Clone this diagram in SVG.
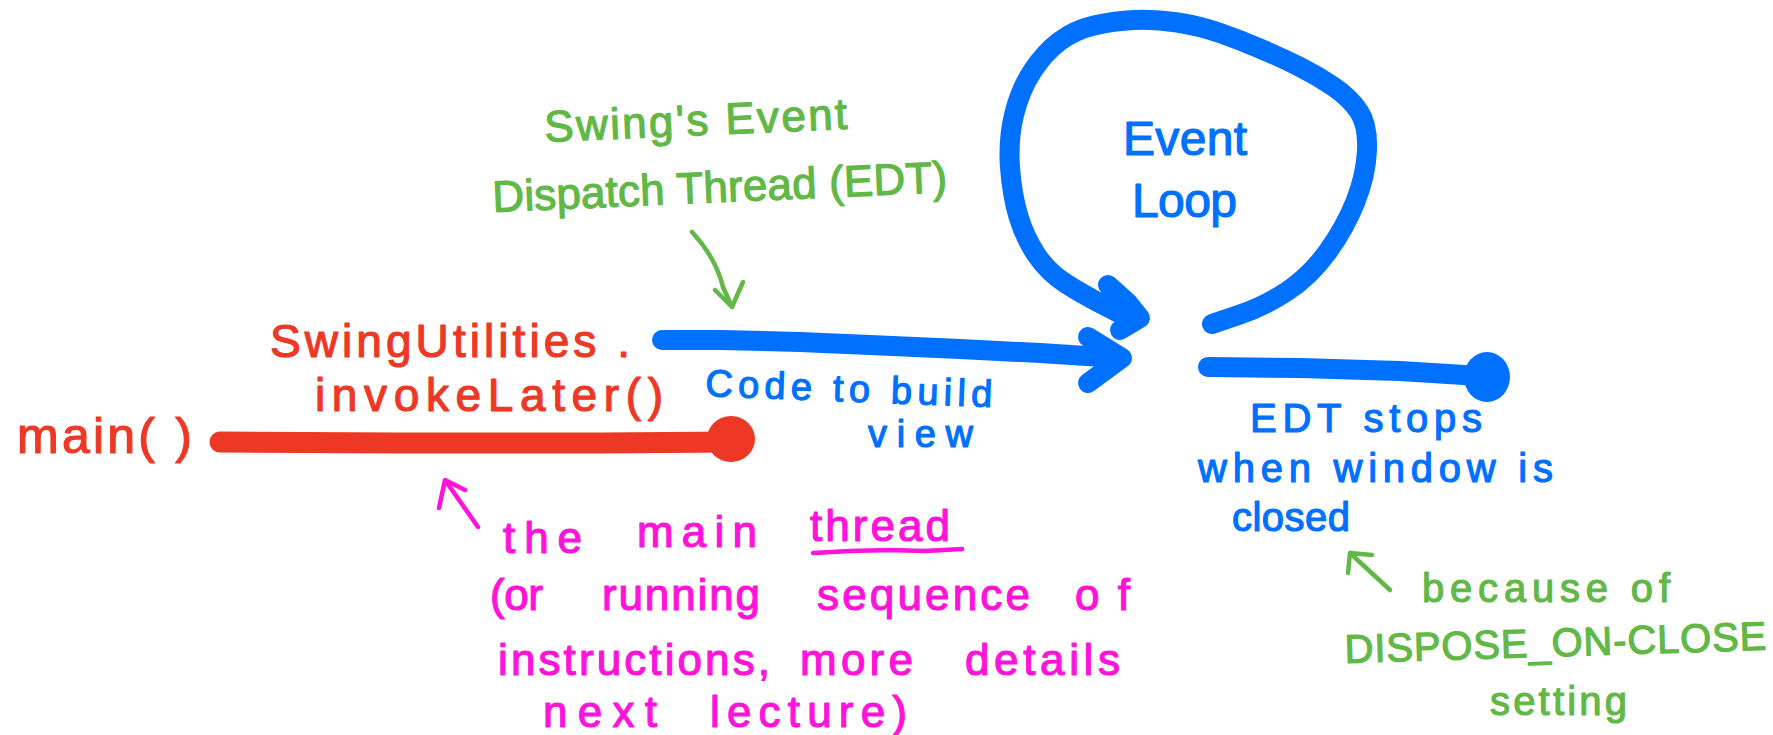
<svg xmlns="http://www.w3.org/2000/svg" width="1773" height="735" viewBox="0 0 1773 735">
  <style>
    text { font-family: "Liberation Sans", "DejaVu Sans", sans-serif; stroke-width: 1.2; stroke-linejoin: round; }
    .red { fill: #EE3826; stroke: #EE3826; }
    .blue { fill: #0070FF; stroke: #0070FF; }
    .green { fill: #62B846; stroke: #62B846; }
    .pink { fill: #FF12DA; stroke: #FF12DA; }
    .stroke { fill: none; stroke-linecap: round; stroke-linejoin: round; }
    .thick-red { stroke: #EE3826; stroke-width: 21; }
    .thick-blue { stroke: #0070FF; stroke-width: 20; }
    .thin-green { stroke: #62B846; stroke-width: 4.5; }
    .thin-pink { stroke: #FF12DA; stroke-width: 4.5; }
  </style>
  <rect width="1773" height="735" fill="#FFFFFF"/>

  <!-- connectors -->
  <g id="connectors">
    <!-- main thread line -->
    <path class="stroke thick-red" d="M220,442 L400,443 L600,443 L730,442"/>
    <ellipse cx="731" cy="439" rx="24" ry="23" fill="#EE3826"/>
    <!-- invokeLater hand-off to EDT -->
    <path class="stroke thick-blue" d="M662,340 L720,340 L800,342 L870,345 L960,349 L1040,353 L1118,358"/>
    <path class="stroke thick-blue" d="M1088,337 L1122,358 L1088,383"/>
    <!-- event loop -->
    <path class="stroke thick-blue" d="M1212,324 L1238.5,315 Q1265,306 1287.5,291 Q1310,276 1327.5,252 Q1345,228 1355.5,201.5 Q1366,175 1367,150 Q1368,125 1359,111.5 Q1350,98 1334,87 Q1318,76 1300,67 Q1282,58 1261,49 Q1240,40 1220,33 Q1200,26 1177.5,22.5 Q1155,19 1134,20 Q1113,21 1094,25.5 Q1075,30 1060,41 Q1045,52 1032.5,71 Q1020,90 1014,115 Q1008,140 1010,167.5 Q1012,195 1018.5,216.5 Q1025,238 1036.5,255 Q1048,272 1065,283 Q1082,294 1103.5,305 L1125,316"/>
    <path class="stroke thick-blue" d="M1108,285 L1128,303 L1140,318 L1120,330"/>
    <!-- EDT ends -->
    <path class="stroke thick-blue" d="M1208,367 L1300,368 L1400,371 L1480,376"/>
    <ellipse cx="1487" cy="377" rx="23" ry="25" fill="#0070FF"/>
    <!-- annotation arrows -->
    <path class="stroke thin-green" d="M692,232 Q716,258 723,287 L732,307 M715,290 L732,307 L743,282"/>
    <path class="stroke thin-green" d="M1390,590 L1350,553 M1348,573 L1350,553 L1372,555"/>
    <path class="stroke thin-pink" d="M478,527 L445,480 M439,508 L445,480 L465,490"/>
    <path class="stroke thin-pink" d="M813,553 L850,551 L890,550 L925,551 L962,549"/>
  </g>

  <g id="main-label">
    <text class="red" x="17" y="453" font-size="50" textLength="175" lengthAdjust="spacing">main( )</text>
  </g>
  <g id="invoke-later-label">
    <text class="red" x="270" y="357" font-size="46" textLength="360" lengthAdjust="spacing">SwingUtilities .</text>
    <text class="red" x="315" y="411" font-size="46" textLength="348" lengthAdjust="spacing">invokeLater()</text>
  </g>
  <g id="edt-label">
    <text class="green" x="545" y="142" font-size="44" textLength="303" lengthAdjust="spacing" transform="rotate(-2.5 545 142)">Swing's Event</text>
    <text class="green" x="493" y="212" font-size="44" textLength="455" lengthAdjust="spacing" transform="rotate(-2.5 493 212)">Dispatch Thread (EDT)</text>
  </g>
  <g id="event-loop">
    <text class="blue" x="1123" y="155" font-size="48" textLength="124" lengthAdjust="spacing">Event</text>
    <text class="blue" x="1132" y="217" font-size="48" textLength="105" lengthAdjust="spacing">Loop</text>
  </g>
  <g id="code-label">
    <text class="blue" x="705" y="396" font-size="38" textLength="287" lengthAdjust="spacing" transform="rotate(2.2 705 396)">Code to build</text>
    <text class="blue" x="868" y="447" font-size="38" textLength="105" lengthAdjust="spacing">view</text>
  </g>
  <g id="edt-stops">
    <text class="blue" x="1250" y="432" font-size="40" textLength="232" lengthAdjust="spacing">EDT stops</text>
    <text class="blue" x="1198" y="482" font-size="40" textLength="355" lengthAdjust="spacing">when window is</text>
    <text class="blue" x="1232" y="531" font-size="40" textLength="118" lengthAdjust="spacing">closed</text>
  </g>
  <g id="dispose-note">
    <text class="green" x="1422" y="602" font-size="40" textLength="248" lengthAdjust="spacing">because of</text>
    <text class="green" x="1345" y="663" font-size="40" textLength="422" lengthAdjust="spacing" transform="rotate(-1.8 1345 663)">DISPOSE_ON-CLOSE</text>
    <text class="green" x="1490" y="715" font-size="40" textLength="137" lengthAdjust="spacing">setting</text>
  </g>
  <g id="main-thread-note">
    <text class="pink" font-size="44"><tspan x="503" y="553" textLength="79" lengthAdjust="spacing">the</tspan><tspan x="637" y="547" textLength="120" lengthAdjust="spacing">main</tspan><tspan x="810" y="541" textLength="140" lengthAdjust="spacing">thread</tspan></text>
    <text class="pink" font-size="44" y="610"><tspan x="490" textLength="53" lengthAdjust="spacing">(or</tspan><tspan x="602" textLength="158" lengthAdjust="spacing">running</tspan><tspan x="817" textLength="213" lengthAdjust="spacing">sequence</tspan><tspan x="1075" textLength="55" lengthAdjust="spacing">of</tspan></text>
    <text class="pink" font-size="44" y="675"><tspan x="498" textLength="272" lengthAdjust="spacing">instructions,</tspan><tspan x="800" textLength="113" lengthAdjust="spacing">more</tspan><tspan x="965" textLength="155" lengthAdjust="spacing">details</tspan></text>
    <text class="pink" font-size="44" y="727"><tspan x="543" textLength="114" lengthAdjust="spacing">next</tspan><tspan x="710" textLength="197" lengthAdjust="spacing">lecture)</tspan></text>
  </g>
</svg>
